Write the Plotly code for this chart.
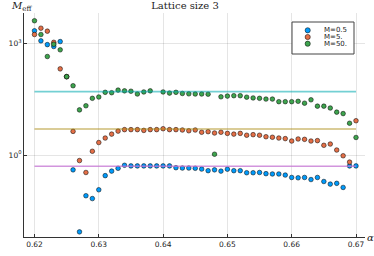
import plotly.graph_objects as go

alpha = [0.620, 0.621, 0.622, 0.623, 0.624, 0.625, 0.626, 0.627, 0.628, 0.629,
         0.630, 0.631, 0.632, 0.633, 0.634, 0.635, 0.636, 0.637, 0.638, 0.639,
         0.640, 0.641, 0.642, 0.643, 0.644, 0.645, 0.646, 0.647, 0.648, 0.649,
         0.650, 0.651, 0.652, 0.653, 0.654, 0.655, 0.656, 0.657, 0.658, 0.659,
         0.660, 0.661, 0.662, 0.663, 0.664, 0.665, 0.666, 0.667, 0.668, 0.669,
         0.670]

m_05 = [2140, 1150, 910, 810, 1100, 126, 0.40, 0.0087, 0.081, 0.068,
        0.117, 0.28, 0.37, 0.44, 0.53, 0.51, 0.51, 0.51, 0.51, 0.51,
        0.51, 0.51, 0.457, 0.447, 0.447, 0.44, 0.42, 0.38, 0.40, 0.37,
        0.417, 0.38, 0.38, 0.335, 0.335, 0.34, 0.316, 0.31, 0.31, 0.29,
        0.25, 0.245, 0.25, 0.22, 0.25, 0.195, 0.166, 0.174, 0.135, 0.51,
        0.51]

m_5 = [1700, 2510, 2090, 1050, 204, 126, 4.3, 0.71, 0.34, 1.26,
       2.16, 2.85, 3.63, 4.37, 4.79, 4.79, 4.79, 4.57, 4.79, 4.79,
       5.07, 4.79, 4.79, 4.68, 4.47, 4.68, 4.07, 4.22, 3.89, 4.07,
       3.80, 3.63, 3.80, 3.39, 3.51, 3.39, 3.09, 2.99, 2.85, 2.75,
       2.37, 2.69, 2.63, 2.37, 2.43, 1.82, 1.97, 1.36, 0.955, 0.646,
       8.3]

m_50 = [3980, 1700, 437, 933, 661, 126, 72, 16.2, 20.9, 33.1,
        35.9, 47.9, 46.8, 55, 52.5, 51.3, 43.2, 49, 52.5, None,
        49, 45.7, 47.9, 44.7, 43.7, 43.2, 43.2, 42.7, 1.05, 36.3,
        38, 38.9, 38.9, 35.5, 33.9, 33.1, 31.6, 31.6, 26.9, 26.9,
        26.9, 27.5, 24.5, 30.2, 20.4, 20.4, 18.2, 14.1, 12.9, 7.1,
        2.95]

series_names = ["M=0.5", "M=5.", "M=50."]
series_values = [m_05, m_5, m_50]
m_levels = [0.5, 5, 50]

x_ticks = [0.62, 0.63, 0.64, 0.65, 0.66, 0.67]
x_tick_labels = ["0.62", "0.63", "0.64", "0.65", "0.66", "0.67"]
y_ticks = [1, 1000]
y_tick_labels = ["10<sup>0</sup>", "10<sup>3</sup>"]

marker_colors = ["#009AFA", "#E36F47", "#3EA44E"]
line_colors = ["rgba(195,113,210,0.75)", "rgba(172,142,24,0.6)", "rgba(0,170,174,0.55)"]

fig = go.Figure()
for name, vals, col in zip(series_names, series_values, marker_colors):
    fig.add_trace(go.Scatter(
        x=alpha, y=vals, mode="markers", name=name, showlegend=False,
        marker=dict(size=4.6, color=col, line=dict(width=0.6, color="rgba(0,0,0,0.85)")),
    ))
for lvl, col in zip(m_levels, line_colors):
    fig.add_trace(go.Scatter(
        x=[alpha[0], alpha[-1]], y=[lvl, lvl], mode="lines", showlegend=False,
        line=dict(color=col, width=1.6), hoverinfo="skip",
    ))

# manual legend (Plotly's legend rows are too tall for this compact box)
L, R, T, B = 24, 9, 13, 19
W, H = 374, 256
pw, ph = W - L - R, H - T - B


def px2paper(px, py):
    return (px - L) / pw, (H - B - py) / ph


shapes = []
annotations = []
bx0, by0 = px2paper(292, 54)
bx1, by1 = px2paper(354, 22)
shapes.append(dict(type="rect", xref="paper", yref="paper", x0=bx0, x1=bx1, y0=by0, y1=by1,
                   line=dict(color="#444", width=1), fillcolor="white", layer="above"))
for k, (name, col) in enumerate(zip(series_names, marker_colors)):
    mx, my = px2paper(307.7, 30.3 + 6.7 * k)
    shapes.append(dict(type="circle", xref="paper", yref="paper", xsizemode="pixel", ysizemode="pixel",
                       xanchor=mx, yanchor=my, x0=-2.6, x1=2.6, y0=-2.6, y1=2.6,
                       fillcolor=col, line=dict(color="rgba(0,0,0,0.85)", width=0.6), layer="above"))
    tx, ty = px2paper(321.5, 30.3 + 6.7 * k)
    annotations.append(dict(xref="paper", yref="paper", x=tx, y=ty, text=name, showarrow=False,
                            xanchor="left", yanchor="middle",
                            font=dict(family="DejaVu Sans", size=7, color="#222")))

ax, ay = px2paper(21, 6)
annotations.append(dict(xref="paper", yref="paper", x=ax, y=ay, text="<i>M</i><sub>eff</sub>",
                        showarrow=False, xanchor="center", yanchor="middle",
                        font=dict(family="DejaVu Serif", size=10, color="#222")))
alx, aly = px2paper(370, 237)
annotations.append(dict(xref="paper", yref="paper", x=alx, y=aly, text="<i>α</i>",
                        showarrow=False, xanchor="center", yanchor="middle",
                        font=dict(family="DejaVu Serif", size=10, color="#222")))

fig.update_layout(
    width=W, height=H,
    margin=dict(l=L, r=R, t=T, b=B),
    paper_bgcolor="white", plot_bgcolor="white",
    title=dict(text="Lattice size 3", x=185 / W, xanchor="center", y=1 - 5.5 / H, yanchor="middle",
               font=dict(family="DejaVu Serif", size=10, color="#222")),
    shapes=shapes, annotations=annotations,
    xaxis=dict(range=[0.61837, 0.67140], tickvals=x_ticks, ticktext=x_tick_labels,
               showgrid=True, gridcolor="rgba(0,0,0,0.1)", gridwidth=1,
               showline=True, linecolor="#333", linewidth=1, zeroline=False,
               ticks="inside", ticklen=3, tickcolor="#333", automargin=False,
               tickfont=dict(family="DejaVu Sans", size=7.5, color="#222")),
    yaxis=dict(type="log", range=[-2.198, 3.807], tickvals=y_ticks, ticktext=y_tick_labels,
               showgrid=True, gridcolor="rgba(0,0,0,0.1)", gridwidth=1,
               showline=True, linecolor="#333", linewidth=1, zeroline=False,
               ticks="inside", ticklen=3, tickcolor="#333", automargin=False,
               tickfont=dict(family="DejaVu Sans", size=7.5, color="#222")),
)

fig.write_html("out.html", config={"displayModeBar": False},
               post_script="document.body.style.margin='0';document.body.style.padding='0';")
